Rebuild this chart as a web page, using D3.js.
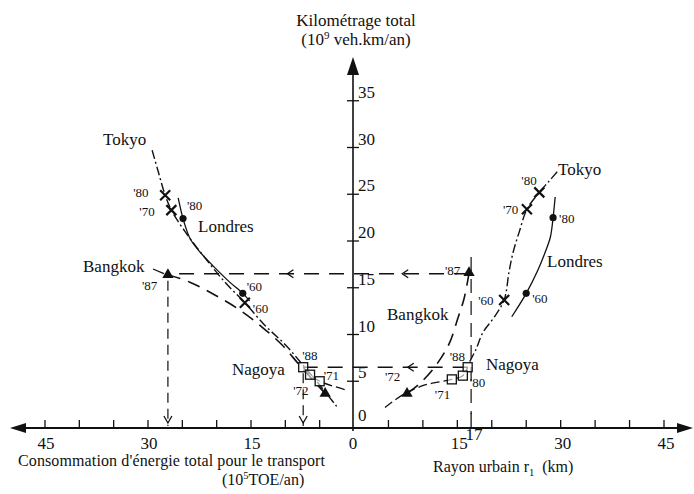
<!DOCTYPE html>
<html><head><meta charset="utf-8">
<script src="https://cdn.jsdelivr.net/npm/d3@7"></script>
<style>
body{margin:0;background:#fff}
svg text{font-family:"Liberation Serif","DejaVu Serif","Times New Roman",serif;fill:#111}
</style>
</head><body>
<svg id="chart" width="694" height="494" font-family="Liberation Serif, DejaVu Serif, serif"></svg>
<script>
// ---------------- DATA ----------------
const yTicks = [5, 10, 15, 20, 25, 30, 35];
const yTickLabels = [0, 5, 10, 15, 20, 25, 30, 35];
const leftTicks = [5, 10, 15, 20, 25, 30, 35, 40, 45];
const rightTicks = [5, 10, 15, 20, 25, 30, 35, 40, 45];
const leftTickLabels = [15, 30, 45];
const rightTickLabels = [0, 15, 30, 45];
const specialTick = 17;

// Left half: x = energy consumption (10^5 TOE/an), y = vehicle-km (10^9)
const tokyoLeft   = [[29.4,29.7],[28.5,27.4],[27.5,24.9],[26.6,23.3],[24.6,21.0],[21.7,18.2],[18.8,15.6],[15.9,13.4],[13.0,11.0],[10.0,8.9],[7.4,6.7],[5.0,4.6],[2.3,2.1]];
const londresLeft = [[25.6,24.6],[24.9,22.4],[23.9,20.3],[22.4,18.8],[20.2,17.1],[18.1,15.6],[16.2,14.4],[15.2,13.6]];
const bangkokLeft = [[27.1,16.4],[23.9,15.6],[20.2,14.2],[16.6,12.6],[13.4,10.8],[10.5,8.9],[7.9,6.7],[5.7,4.9],[4.2,3.7]];
const nagoyaLeft  = [[7.4,6.5],[6.4,5.7],[5.0,5.0],[1.3,4.1]];

const tokyoLeftPts   = [[27.5,24.9,"'80"],[26.6,23.3,"'70"],[15.9,13.4,"'60"]];
const londresLeftPts = [[24.9,22.4,"'80"],[16.2,14.4,"'60"]];
const bangkokLeftPts = [[27.1,16.4,"'87"],[4.2,3.7,"'72"]];
const nagoyaLeftPts  = [[7.4,6.5,"'88"],[6.4,5.7,""],[5.0,5.0,"'71"]];

// Right half: x = urban radius r1 (km), y = vehicle-km (10^9)
const tokyoRight   = [[29.5,27.4],[28.2,26.3],[26.9,25.2],[25.1,23.4],[24.0,21.0],[23.1,18.8],[22.5,16.7],[21.8,13.7],[20.3,11.8],[18.7,10.2],[17.7,8.4],[16.8,7.1]];
const londresRight = [[29.2,24.7],[28.9,22.5],[28.5,20.4],[27.7,18.7],[26.7,16.9],[25.0,14.4],[22.9,11.9]];
const bangkokRight = [[16.7,16.6],[16.0,13.9],[15.1,11.8],[13.8,9.0],[11.8,6.6],[9.6,4.8],[7.7,3.7]];
const nagoyaRight  = [[4.5,2.2],[7.2,3.6],[10.3,4.6],[12.2,4.9],[14.2,5.2],[15.8,5.6],[16.5,6.5]];

const tokyoRightPts   = [[26.9,25.2,"'80"],[25.1,23.4,"'70"],[21.8,13.7,"'60"]];
const londresRightPts = [[28.9,22.5,"'80"],[25.0,14.4,"'60"]];
const bangkokRightPts = [[16.7,16.6,"'87"],[7.7,3.7,"'72"]];
const nagoyaRightPts  = [[16.5,6.5,"'88"],[15.8,5.6,"'80"],[14.2,5.2,"'71"]];

// Guide (projection) lines: [y, right x, left x, right arrow x, left arrow x]
const guideH = [[16.5, 16.7, 27.1, 7.0, 9.7],[6.5, 16.5, 7.4, 7.8, null]];
// vertical guides: [x, yTop]
const guideVLeft = [[27.1, 16.4],[7.4, 6.5]];
const guideVRight = [[17, 18.3]];

// ---------------- LAYOUT ----------------
const svg = d3.select("#chart");
const X0 = 354, Y0 = 428;
const xL = d3.scaleLinear().domain([0,45]).range([X0, 45]);
const xR = d3.scaleLinear().domain([0,45]).range([X0, 664]);
const y  = d3.scaleLinear().domain([0,35]).range([Y0, 100.75]);

const g = svg.append("g");

const offs = {
 "tL'80":[-32,2],"tL'70":[-32,6],"tL'60":[8,10],
 "lL'80":[4,-9],"lL'60":[4,-2],
 "bL'87":[-26,15],"bL'72":[-32,2],
 "nL'88":[-1,-7],"nL'71":[4,-1],
 "tR'80":[-18,-7],"tR'70":[-24,5],"tR'60":[-26,5],
 "lR'80":[6,5],"lR'60":[6,10],
 "bR'87":[-24,2],"bR'72":[-22,-12],
 "nR'88":[-18,-6],"nR'80":[7,11],"nR'71":[-17,20]
};

// ---------------- GUIDES ----------------
const guideStyle = s => s.attr("stroke","#111").attr("stroke-width",1.3).attr("fill","none").attr("stroke-dasharray","15,10");
guideH.forEach(([yy, xr, xl, ar, al]) => {
  g.append("line").attr("x1", xR(xr)).attr("x2", xL(xl)).attr("y1", y(yy)).attr("y2", y(yy)).call(guideStyle);
  [ar!==null?xR(ar):null, al!==null?xL(al):null].forEach(px => {
    if (px===null) return;
    g.append("path").attr("d", `M${px+6},${y(yy)-4} L${px},${y(yy)} L${px+6},${y(yy)+4}`)
      .attr("stroke","#111").attr("stroke-width",1.3).attr("fill","none");
  });
});
guideVLeft.forEach(([xx, yy]) => {
  g.append("line").attr("x1", xL(xx)).attr("x2", xL(xx)).attr("y1", y(yy)+6).attr("y2", Y0-2)
    .attr("stroke","#111").attr("stroke-width",1.2).attr("stroke-dasharray","10,6");
  const px = xL(xx);
  g.append("path").attr("d", `M${px-4},${Y0-12} L${px},${Y0-5} L${px+4},${Y0-12}`)
    .attr("stroke","#111").attr("stroke-width",1.3).attr("fill","none");
});
guideVRight.forEach(([xx, yy]) => {
  g.append("line").attr("x1", xR(xx)).attr("x2", xR(xx)).attr("y1", y(yy)).attr("y2", Y0-14)
    .attr("stroke","#111").attr("stroke-width",1.2).attr("stroke-dasharray","14,8");
});

// ---------------- AXES ----------------
g.append("line").attr("x1", 22).attr("x2", 682).attr("y1", Y0).attr("y2", Y0).attr("stroke","#111").attr("stroke-width",2.2);
g.append("path").attr("d", `M10,${Y0} L26,${Y0-5} L26,${Y0+5} Z`).attr("fill","#111");
g.append("path").attr("d", `M693,${Y0} L677,${Y0-5} L677,${Y0+5} Z`).attr("fill","#111");
g.append("line").attr("x1", X0-1).attr("x2", X0-1).attr("y1", Y0+3).attr("y2", 70).attr("stroke","#111").attr("stroke-width",1.6);
g.append("path").attr("d", `M${X0-1},57 L${X0-7},75 L${X0+5},75 Z`).attr("fill","#111");

leftTicks.forEach(t => g.append("line").attr("x1", xL(t)).attr("x2", xL(t)).attr("y1", Y0).attr("y2", Y0-8).attr("stroke","#111").attr("stroke-width",1.3));
rightTicks.forEach(t => g.append("line").attr("x1", xR(t)).attr("x2", xR(t)).attr("y1", Y0).attr("y2", Y0-8).attr("stroke","#111").attr("stroke-width",1.3));
g.append("line").attr("x1", xR(specialTick)).attr("x2", xR(specialTick)).attr("y1", Y0).attr("y2", Y0-15).attr("stroke","#111").attr("stroke-width",1.3);
yTicks.forEach(t => g.append("line").attr("x1", X0-7).attr("x2", X0+5).attr("y1", y(t)).attr("y2", y(t)).attr("stroke","#111").attr("stroke-width",1.3));

const tickFont = 17;
leftTickLabels.forEach(t => g.append("text").attr("x", xL(t)+1).attr("y", 449).attr("text-anchor","middle").attr("font-size",tickFont).text(t));
rightTickLabels.forEach(t => g.append("text").attr("x", xR(t)+(t===0?-1:2)).attr("y", 449).attr("text-anchor","middle").attr("font-size",tickFont).text(t));
g.append("text").attr("x", xR(specialTick)+3).attr("y", 440).attr("text-anchor","middle").attr("font-size",tickFont).text(specialTick);
yTickLabels.forEach(t => g.append("text").attr("x", X0+4).attr("y", y(t)-(t===0?7:3)).attr("font-size",tickFont).text(t));

// ---------------- SERIES ----------------
const line = d3.line().curve(d3.curveCatmullRom.alpha(0.5));
function drawCurve(data, sx, dash, w) {
  g.append("path").attr("d", line(data.map(d => [sx(d[0]), y(d[1])])))
    .attr("fill","none").attr("stroke","#111").attr("stroke-width",w)
    .attr("stroke-dasharray", dash);
}
drawCurve(tokyoLeft, xL, "9,3,2,3", 1.4);
drawCurve(londresLeft, xL, null, 1.3);
drawCurve(bangkokLeft, xL, "13,8", 1.6);
drawCurve(nagoyaLeft, xL, "9,4", 1.3);
drawCurve(tokyoRight, xR, "9,3,2,3", 1.4);
drawCurve(londresRight, xR, null, 1.3);
drawCurve(bangkokRight, xR, "13,8", 1.6);
drawCurve(nagoyaRight, xR, "9,4", 1.3);

const yearFont = 13;
function yearLabel(key, px, py, txt) {
  if (!txt) return;
  const o = offs[key+txt] || [4,-4];
  g.append("text").attr("x", px+o[0]).attr("y", py+o[1]).attr("font-size", yearFont).text(txt);
}
function crosses(pts, sx, k) {
  pts.forEach(d => {
    const px = sx(d[0]), py = y(d[1]);
    g.append("path").attr("d", `M${px-5},${py-5}L${px+5},${py+5}M${px+5},${py-5}L${px-5},${py+5}`)
      .attr("stroke","#111").attr("stroke-width",2.2);
    yearLabel(k, px, py, d[2]);
  });
}
function dots(pts, sx, k) {
  pts.forEach(d => {
    const px = sx(d[0]), py = y(d[1]);
    g.append("circle").attr("cx",px).attr("cy",py).attr("r",3.6).attr("fill","#111");
    yearLabel(k, px, py, d[2]);
  });
}
function tris(pts, sx, k) {
  pts.forEach(d => {
    const px = sx(d[0]), py = y(d[1]);
    g.append("path").attr("d", d3.symbol(d3.symbolTriangle, 55)()).attr("transform",`translate(${px},${py})`).attr("fill","#111");
    yearLabel(k, px, py, d[2]);
  });
}
function squares(pts, sx, k) {
  pts.forEach(d => {
    const px = sx(d[0]), py = y(d[1]);
    g.append("rect").attr("x",px-4.5).attr("y",py-4.5).attr("width",9).attr("height",9)
      .attr("fill","#fff").attr("fill-opacity",0.6).attr("stroke","#111").attr("stroke-width",1.3);
    yearLabel(k, px, py, d[2]);
  });
}
crosses(tokyoLeftPts, xL, "tL");
dots(londresLeftPts, xL, "lL");
tris(bangkokLeftPts, xL, "bL");
squares(nagoyaLeftPts, xL, "nL");
crosses(tokyoRightPts, xR, "tR");
dots(londresRightPts, xR, "lR");
tris(bangkokRightPts, xR, "bR");
squares(nagoyaRightPts, xR, "nR");

g.append("line").attr("x1",153).attr("y1",269).attr("x2",xL(bangkokLeftPts[0][0])-4).attr("y2",y(bangkokLeftPts[0][1])-1).attr("stroke","#111").attr("stroke-width",1.3);

// ---------------- TEXT ----------------
const cityFont = 17;
const cityLabels = [
  ["Tokyo", 103, 145], ["Londres", 198, 232], ["Bangkok", 83, 272], ["Nagoya", 232, 375],
  ["Tokyo", 558, 175], ["Londres", 547, 267], ["Bangkok", 387, 320], ["Nagoya", 486, 370]
];
cityLabels.forEach(([t, x, yy]) => g.append("text").attr("x", x).attr("y", yy).attr("font-size", cityFont).text(t));

g.append("text").attr("x", 356).attr("y", 26).attr("text-anchor","middle").attr("font-size",17).text("Kilométrage total");
const t2 = g.append("text").attr("x", 356).attr("y", 45).attr("text-anchor","middle").attr("font-size",17);
t2.append("tspan").text("(10");
t2.append("tspan").attr("font-size",11).attr("dy",-6).text("9");
t2.append("tspan").attr("dy",6).text(" veh.km/an)");

g.append("text").attr("x", 18).attr("y", 466).attr("font-size",16).attr("textLength",307).text("Consommation  d'énergie total pour le transport");
const t3 = g.append("text").attr("x", 222).attr("y", 485).attr("font-size",16);
t3.append("tspan").text("(10");
t3.append("tspan").attr("font-size",10.5).attr("dy",-6).text("5");
t3.append("tspan").attr("dy",6).text("TOE/an)");

const t4 = g.append("text").attr("x", 433).attr("y", 472).attr("font-size",16);
t4.append("tspan").text("Rayon urbain r");
t4.append("tspan").attr("font-size",10.5).attr("dy",4).text("1");
t4.append("tspan").attr("dy",-4).text("\u00a0\u00a0(km)");
</script>
</body></html>
